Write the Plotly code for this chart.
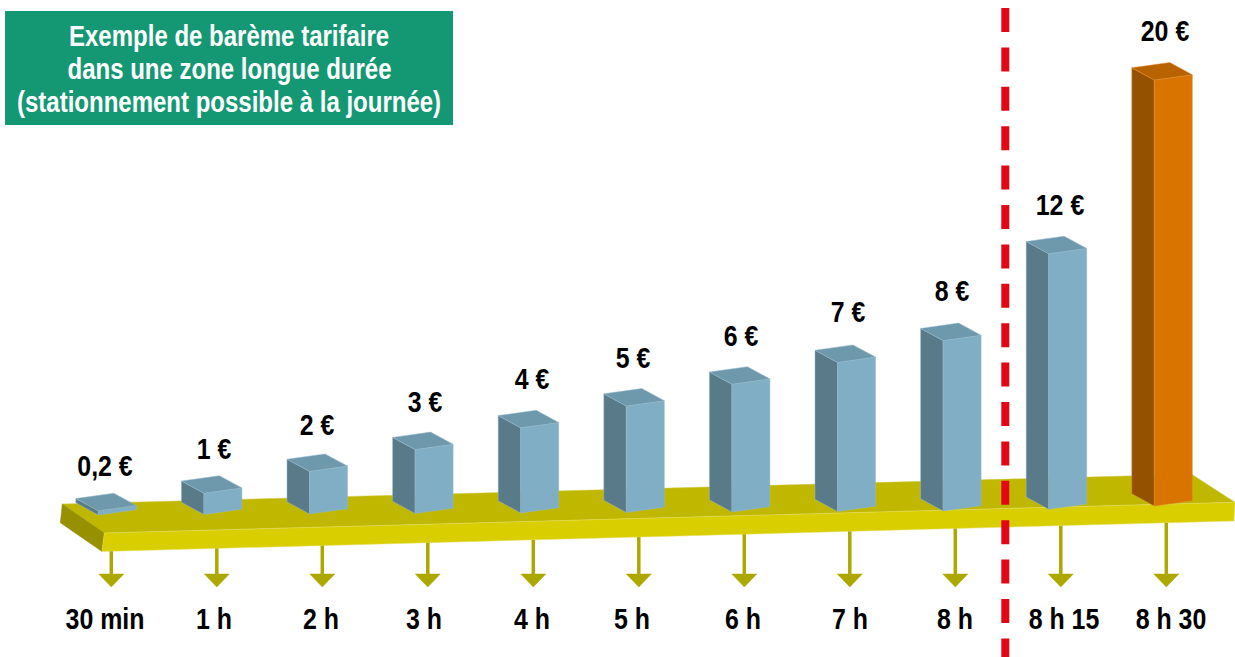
import plotly.graph_objects as go

# --- data ---
durations = ["30 min", "1 h", "2 h", "3 h", "4 h", "5 h", "6 h", "7 h", "8 h", "8 h 15", "8 h 30"]
prices = [0.2, 1, 2, 3, 4, 5, 6, 7, 8, 12, 20]
price_labels = ["0,2 €", "1 €", "2 €", "3 €", "4 €", "5 €", "6 €", "7 €", "8 €", "12 €", "20 €"]
title_lines = ["Exemple de barème tarifaire", "dans une zone longue durée", "(stationnement possible à la journée)"]

# --- layout geometry: screen scale of the axes ---
W, H = 1235, 657
X0, DX = 98.3, 105.6   # pixel of slot 0, pixels per slot
Y0, DY = 515.0, 21.3   # pixel of 0 €, pixels per €
def sx(p): return (p - X0) / DX
def sy(p): return (Y0 - p) / DY

base_px = [515, 514.5, 514, 513.5, 513, 512.5, 512, 511.5, 511, 509.3, 506]
dur_label_px = [105, 214, 321, 424, 532, 632, 743, 850, 955, 1064, 1171]
val_label_px = [105, 214, 317, 425, 532, 633, 741, 848, 952, 1060, 1165]
val_gap_px = [42, 42, 43.5, 45.5, 46, 46, 46, 47.5, 47.5, 46, 47]
title_y_px = [35, 68, 101.5]

BW, BS = 38 / DX, 5.3 / DY      # front face width / rise
SW, SH = 22.5 / DX, 12.2 / DY   # depth offset

BLUE = dict(front="#80AEC4", side="#597A89", top="#6E98AC", edge="#93B8CA")
ORANGE = dict(front="#D97400", side="#945200", top="#B86200", edge="#E08A30")
FONT = "Liberation Sans, Arial, sans-serif"
FS = 30

fig = go.Figure()

def poly(xs, ys, color, edge=None, lw=0.5):
    fig.add_trace(go.Scatter(
        x=list(xs) + [xs[0]], y=list(ys) + [ys[0]], mode="lines", fill="toself",
        fillcolor=color, line=dict(color=edge or color, width=lw),
        hoverinfo="skip", showlegend=False))

# plate
tl, tf, tr, tb = (62.3, 504), (104.3, 533), (1235, 502.3), (1191.7, 474.3)
bl, bf, br = (60.3, 522.7), (102, 551.5), (1234, 521)
def P(*pts):
    return [sx(p[0]) for p in pts], [sy(p[1]) for p in pts]
poly(*P(tl, tb, tr, tf), "#C0B800", "#CFC840")
poly(*P(tl, tf, bf, bl), "#979000")
poly(*P(tf, tr, br, bf), "#D9CE00", "#E6DF60")

# arrows
for i in range(len(prices)):
    ax = 111.3 + i * 105.5
    top = 551.5 - 0.0269 * (ax - 102)
    fig.add_trace(go.Scatter(x=[sx(ax), sx(ax)], y=[sy(top), sy(575)], mode="lines",
                             line=dict(color="#ADA800", width=3.5), hoverinfo="skip", showlegend=False))
    poly(*P((ax - 12.5, 574), (ax + 12.5, 574), (ax, 587)), "#ADA800")

# separator
fig.add_trace(go.Scatter(x=[sx(1005.3), sx(1005.3)], y=[sy(8), sy(657)], mode="lines",
                         line=dict(color="#E30613", width=8, dash="24px,15.4px"),
                         hoverinfo="skip", showlegend=False))

# bars
for i, v in enumerate(prices):
    c = ORANGE if i == len(prices) - 1 else BLUE
    b = sy(base_px[i])
    t = b + v
    poly([i - SW, i, i, i - SW], [b + SH, b, t, t + SH], c["side"], c["edge"])
    poly([i, i + BW, i + BW, i], [b, b + BS, t + BS, t], c["front"], c["edge"])
    poly([i - SW, i - SW + BW, i + BW, i], [t + SH, t + SH + BS, t + BS, t], c["top"], c["edge"])

# value labels and duration labels
fig.add_trace(go.Scatter(
    x=[sx(p) for p in val_label_px],
    y=[sy(base_px[i]) + prices[i] + val_gap_px[i] / DY for i in range(len(prices))],
    mode="text", text=price_labels, textposition="middle center",
    textfont=dict(family=FONT, size=FS, color="#000000", weight="bold"),
    hoverinfo="skip", showlegend=False))
fig.add_trace(go.Scatter(
    x=[sx(p) for p in dur_label_px], y=[sy(621)] * len(durations),
    mode="text", text=durations, textposition="middle center",
    textfont=dict(family=FONT, size=FS, color="#000000", weight="bold"),
    hoverinfo="skip", showlegend=False))

# title box
fig.add_shape(type="rect", x0=sx(5), x1=sx(453), y0=sy(11), y1=sy(125),
              fillcolor="#149874", line=dict(width=0), layer="below")
for line, yp in zip(title_lines, title_y_px):
    fig.add_annotation(x=sx(229), y=sy(yp), text=line, showarrow=False, align="center",
                       font=dict(family=FONT, size=FS, color="#FFFFFF", weight="bold"))

fig.update_layout(
    width=W, height=H, margin=dict(l=0, r=0, t=0, b=0),
    paper_bgcolor="#FFFFFF", plot_bgcolor="#FFFFFF", showlegend=False,
    xaxis=dict(range=[sx(0), sx(W)], visible=False, fixedrange=True),
    yaxis=dict(range=[sy(H), sy(0)], visible=False, fixedrange=True),
)
# the reference lettering is a narrow cut of the sans: condense the real text elements
narrow = """
document.body.style.margin='0';document.body.style.overflow='hidden';
function squeeze(sel,f){document.querySelectorAll(sel).forEach(function(t){
  var n=t.getComputedTextLength();
  t.setAttribute('textLength',(n*f).toFixed(1));
  t.setAttribute('lengthAdjust','spacingAndGlyphs');
});}
squeeze('.textpoint text',0.83);
squeeze('text.annotation-text',0.80);
"""
fig.write_html("out.html", config={"displayModeBar": False}, post_script=narrow)
